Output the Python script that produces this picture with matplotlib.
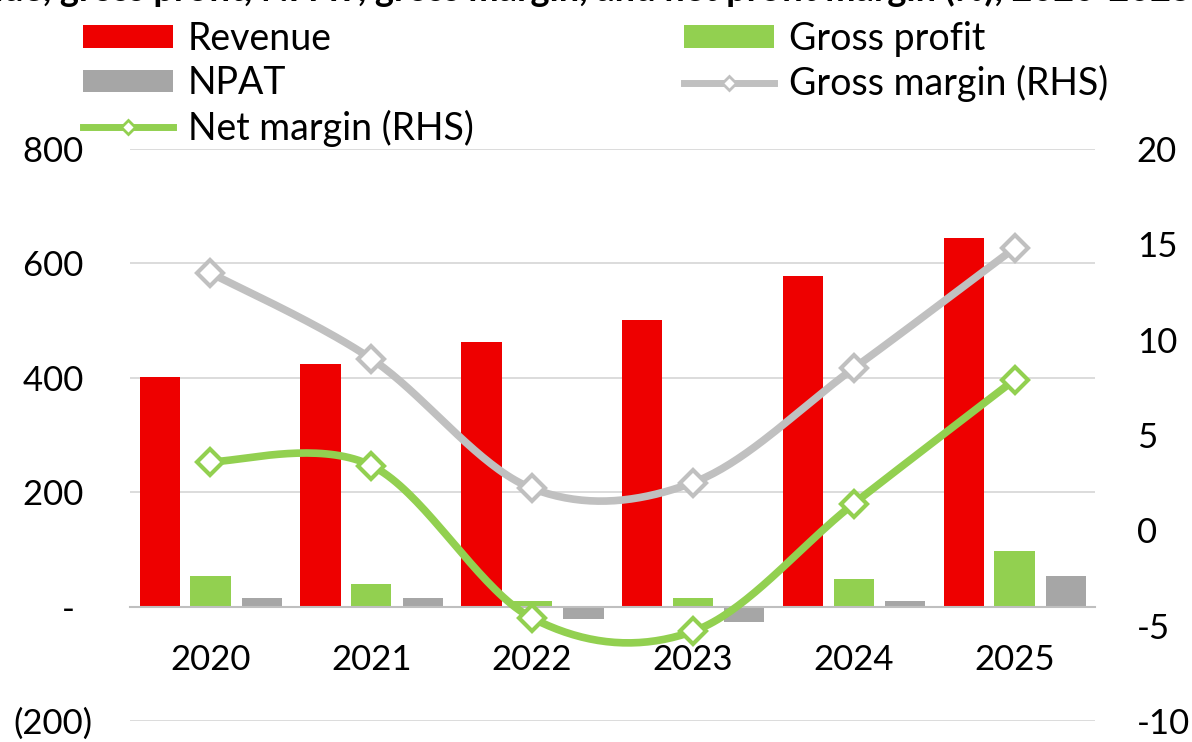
import numpy as np
from matplotlib import pyplot as plt

plt.rcParams['font.family'] = ['Lato', 'DejaVu Sans']

# Данные
years = ['2020', '2021', '2022', '2023', '2024', '2025']
revenue = [402, 425, 463, 501, 578, 645]
gross_profit = [54, 40, 10, 15, 49, 97]
npat = [15, 15, -22, -27, 10, 54]
gross_margin = [13.5, 9.0, 2.2, 2.5, 8.5, 14.8]
net_margin = [3.6, 3.4, -4.6, -5.3, 1.4, 7.9]

left_ticks = [-200, 0, 200, 400, 600, 800]
left_labels = ['(200)', '-  ', '200 ', '400 ', '600 ', '800 ']
right_ticks = [-10, -5, 0, 5, 10, 15, 20]

RED = '#ee0000'
GREEN = '#92d050'
GREY = '#a6a6a6'
LGREY = '#c0c0c0'


# Сглаживание линии как в Excel (кривые Безье через точки)
def smooth(xs, ys, n=40):
    pts = np.column_stack([xs, ys]).astype(float)
    ext = np.vstack([pts[0], pts, pts[-1]])
    out = []
    t = np.linspace(0, 1, n)[:, None]
    for i in range(len(pts) - 1):
        p0, p1, p2, p3 = ext[i], ext[i + 1], ext[i + 2], ext[i + 3]
        c1 = p1 + (p2 - p0) / 6
        c2 = p2 - (p3 - p1) / 6
        seg = (1 - t) ** 3 * p1 + 3 * (1 - t) ** 2 * t * c1 + 3 * (1 - t) * t ** 2 * c2 + t ** 3 * p2
        out.append(seg if i == 0 else seg[1:])
    return np.vstack(out)


fig = plt.figure(figsize=(11.92, 7.42), dpi=100)
ax = fig.add_axes([130 / 1192, 21 / 742, 965 / 1192, 572 / 742])
ax2 = ax.twinx()

# ось X проходит через ноль
ax.spines['bottom'].set_position(('data', 0))
ax.spines['bottom'].set_color('#bfbfbf')
ax.spines['bottom'].set_linewidth(1.5)
for s in ['top', 'left', 'right']:
    ax.spines[s].set_visible(False)
for s in ['top', 'left', 'right', 'bottom']:
    ax2.spines[s].set_visible(False)

x = np.arange(len(years))
w = 0.25
b1 = ax.bar(x - 0.315, revenue, w, color=RED, label='Revenue', zorder=2)
b2 = ax.bar(x, gross_profit, w, color=GREEN, label='Gross profit', zorder=2)
b3 = ax.bar(x + 0.32, npat, w, color=GREY, label='NPAT', zorder=2)

ax.set_xlim(-0.5, len(years) - 0.5)
ax.set_ylim(-200, 800)
ax.set_yticks(left_ticks)
ax.set_yticklabels(left_labels, fontsize=25)
ax.tick_params(axis='y', length=0, pad=27)
ax.grid(axis='y', color='#d9d9d9', lw=1.3, zorder=0)
ax.set_axisbelow(True)

ax.set_xticks(x)
ax.set_xticklabels(years, fontsize=25)
ax.tick_params(axis='x', length=0, pad=27)

gm = smooth(x, gross_margin)
nm = smooth(x, net_margin)
ax2.plot(gm[:, 0], gm[:, 1], color=LGREY, lw=5.5, solid_capstyle='round', zorder=3)
ax2.plot(x, gross_margin, 'D', color=LGREY, mfc='white', mec=LGREY, ms=13, mew=3, zorder=4)
ax2.plot(nm[:, 0], nm[:, 1], color=GREEN, lw=5.5, solid_capstyle='round', zorder=3)
ax2.plot(x, net_margin, 'D', color=GREEN, mfc='white', mec=GREEN, ms=13, mew=3, zorder=4)

ax2.set_ylim(-10, 20)
ax2.set_yticks(right_ticks)
ax2.set_yticklabels([str(v) for v in right_ticks], fontsize=25)
ax2.tick_params(axis='y', length=0, pad=30)

# Легенда
h_gm, = ax2.plot([], [], color=LGREY, lw=5, marker='D', mfc='white', mec=LGREY, ms=7, mew=2)
h_nm, = ax2.plot([], [], color=GREEN, lw=5, marker='D', mfc='white', mec=GREEN, ms=7, mew=2)
handles = [b1, b3, h_nm, b2, h_gm]
labels = ['Revenue', 'NPAT', 'Net margin (RHS)', 'Gross profit', 'Gross margin (RHS)']
fig.legend(handles, labels, loc='upper left', bbox_to_anchor=(83 / 1192, 1 - 21 / 742),
           ncol=2, frameon=False, fontsize=27, handlelength=2.4, handleheight=0.56,
           handletextpad=0.4, columnspacing=5.6, labelspacing=0.22, borderpad=0,
           borderaxespad=0)

# Заголовок (обрезан сверху)
fig.text(1.0, 1 - 1 / 742, 'Revenue, gross profit, NPAT, gross margin, and net profit margin (%), 2020-2025',
         ha='right', va='baseline', fontsize=26, fontweight='bold')

fig.savefig('out.png', dpi=100)
